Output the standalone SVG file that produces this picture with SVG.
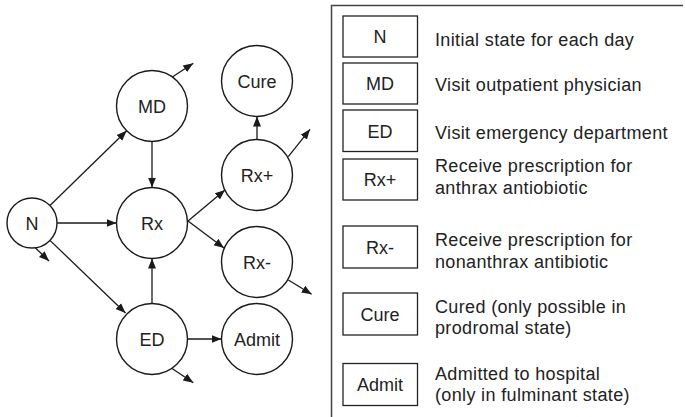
<svg xmlns="http://www.w3.org/2000/svg" width="685" height="417" viewBox="0 0 685 417">
<style>
.node circle{fill:#fff;stroke:#1a1a1a;stroke-width:1.4}
.lbl{font-family:"Liberation Sans",Arial,sans-serif;font-size:18px;fill:#222;text-anchor:middle}
.desc{font-family:"Liberation Sans",Arial,sans-serif;font-size:18px;fill:#222;letter-spacing:0.35px}
.key rect{fill:#fff;stroke:#222;stroke-width:1.3}
#connectors line{stroke:#1a1a1a;stroke-width:1.3;marker-end:url(#ah)}
</style>
<defs>
<marker id="ah" markerUnits="userSpaceOnUse" markerWidth="10" markerHeight="10" viewBox="0 0 10 10" refX="10" refY="5" orient="auto">
<path d="M0,1 L10,5 L0,9 Z" fill="#1a1a1a"/>
</marker>
</defs>
<rect width="685" height="417" fill="#fff"/>
<g id="connectors">
<line x1="50" y1="205.5" x2="126.6" y2="130.8"/>
<line x1="57" y1="223" x2="116.5" y2="223"/>
<line x1="50" y1="240.4" x2="125.5" y2="313"/>
<line x1="35" y1="247.5" x2="49" y2="261"/>
<line x1="152" y1="141.5" x2="152" y2="187.5"/>
<line x1="172.7" y1="76.7" x2="193.3" y2="63.3"/>
<line x1="152" y1="303.5" x2="152" y2="258.5"/>
<line x1="187.5" y1="339" x2="221.5" y2="339"/>
<line x1="171.7" y1="368.3" x2="193.3" y2="382.7"/>
<line x1="188" y1="221" x2="225" y2="190"/>
<line x1="188" y1="221" x2="224" y2="248"/>
<line x1="257" y1="139.5" x2="257" y2="116.5"/>
<line x1="288.3" y1="156.7" x2="310" y2="129.3"/>
<line x1="288.3" y1="280" x2="311.7" y2="294.3"/>
</g>
<g id="node-N" class="node"><circle cx="32" cy="223" r="25"/><text class="lbl" x="32" y="229.5">N</text></g>
<g id="node-MD" class="node"><circle cx="152" cy="106" r="35.5"/><text class="lbl" x="152" y="112.5">MD</text></g>
<g id="node-Cure" class="node"><circle cx="257" cy="81" r="35.5"/><text class="lbl" x="257" y="87.5">Cure</text></g>
<g id="node-RxPlus" class="node"><circle cx="257" cy="175" r="35.5"/><text class="lbl" x="257" y="181.5">Rx+</text></g>
<g id="node-Rx" class="node"><circle cx="152" cy="223" r="35.5"/><text class="lbl" x="152" y="229.5">Rx</text></g>
<g id="node-RxMinus" class="node"><circle cx="257" cy="262" r="35.5"/><text class="lbl" x="257" y="268.5">Rx-</text></g>
<g id="node-ED" class="node"><circle cx="152" cy="339" r="35.5"/><text class="lbl" x="152" y="345.5">ED</text></g>
<g id="node-Admit" class="node"><circle cx="257" cy="339" r="35.5"/><text class="lbl" x="257" y="345.5">Admit</text></g>
<g id="legend">
<path d="M331.5,418 V5.5 H683" fill="none" stroke="#444" stroke-width="1.5"/>
<g id="key-N" class="key"><rect x="343" y="16" width="74.5" height="41"/><text class="lbl" x="380" y="43">N</text><text class="desc" x="435" y="45.5">Initial state for each day</text></g>
<g id="key-MD" class="key"><rect x="343" y="63" width="74.5" height="41"/><text class="lbl" x="380" y="90">MD</text><text class="desc" x="435" y="91">Visit outpatient physician</text></g>
<g id="key-ED" class="key"><rect x="343" y="110" width="74.5" height="41.5"/><text class="lbl" x="380" y="137.5">ED</text><text class="desc" x="435" y="139">Visit emergency department</text></g>
<g id="key-RxPlus" class="key"><rect x="343" y="159" width="74.5" height="41"/><text class="lbl" x="380" y="186">Rx+</text><text class="desc" x="435" y="172">Receive prescription for</text><text class="desc" x="435" y="193.5">anthrax antiobiotic</text></g>
<g id="key-RxMinus" class="key"><rect x="343" y="226" width="74.5" height="42"/><text class="lbl" x="380" y="253.5">Rx-</text><text class="desc" x="435" y="246">Receive prescription for</text><text class="desc" x="435" y="267.5">nonanthrax antibiotic</text></g>
<g id="key-Cure" class="key"><rect x="343" y="293" width="74.5" height="42"/><text class="lbl" x="380" y="320.5">Cure</text><text class="desc" x="435" y="312.5">Cured (only possible in</text><text class="desc" x="435" y="334">prodromal state)</text></g>
<g id="key-Admit" class="key"><rect x="343" y="363.5" width="74.5" height="42"/><text class="lbl" x="380" y="391">Admit</text><text class="desc" x="435" y="379.5">Admitted to hospital</text><text class="desc" x="435" y="401">(only in fulminant state)</text></g>
</g>
</svg>
